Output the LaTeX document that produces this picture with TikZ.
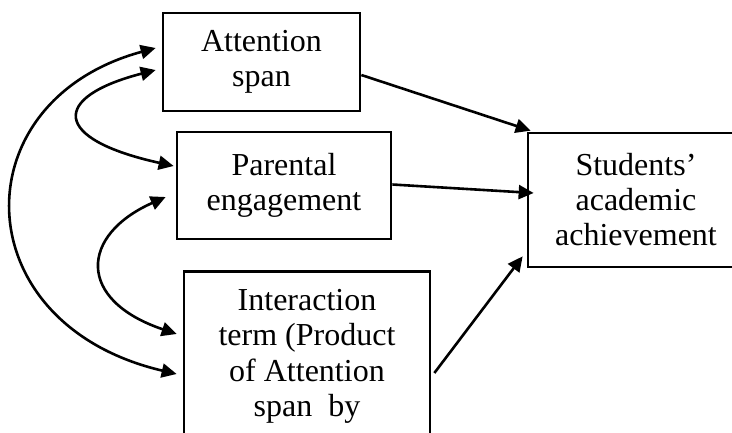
\documentclass[tikz,border=0pt]{standalone}
\usepackage{fontspec}
\setmainfont{Liberation Serif}
\usetikzlibrary{arrows.meta}
\begin{document}
\begin{tikzpicture}[x=1pt,y=-1pt,
  box/.style={draw, line width=2.7pt, rectangle, align=center, inner sep=0pt,
    font=\fontsize{32}{35}\selectfont},
  conn/.style={line width=2.6pt, -{Triangle[length=15pt,width=14pt]}},
  biconn/.style={line width=2.6pt, {Triangle[length=15pt,width=14pt]}-{Triangle[length=15pt,width=14pt]}}]
\useasboundingbox (0,0) rectangle (732,432);
\clip (0,0) rectangle (732,432);
\node[box, minimum width=197pt, minimum height=98pt] (A) at (261.5,62) {Attention\\span};
\node[box, minimum width=214pt, minimum height=107pt] (P) at (284,185.5) {Parental\\engagement};
\node[box, minimum width=246pt, minimum height=230pt, anchor=north] (I) at (307,270) {};
\node[anchor=north, align=center, inner sep=0pt, font=\fontsize{32}{35.5}\selectfont] (It) at ([yshift=-19pt]I.north) {Interaction\\term (Product\\of Attention\\span~ by};
\node[box, minimum width=216pt, minimum height=134pt] (S) at (636,200) {Students’\\academic\\achievement};
% straight paths
\draw[conn] ([yshift=-13pt]A.east) -- ([xshift=4pt,yshift=1pt]S.north west);
\draw[conn] ([yshift=1pt]P.east) -- ([xshift=7pt,yshift=7pt]S.west);
\draw[conn] ([xshift=3pt,yshift=-103pt]I.north east) -- ([xshift=-4pt,yshift=12pt]S.south west);
% covariances
\draw[biconn] ([xshift=-6pt,yshift=14pt]A.west) .. controls (-40,101) and (-37,324) .. ([xshift=-6pt,yshift=-104pt]I.north west);
\draw[biconn] ([xshift=-6pt,yshift=-8pt]A.west) .. controls (51,97) and (51,139) .. ([xshift=-2pt,yshift=19.5pt]P.west);
\draw[biconn] ([xshift=-10pt,yshift=-11.5pt]P.west) .. controls (80,235) and (76,300) .. ([xshift=-6pt,yshift=-64pt]I.north west);
\end{tikzpicture}
\end{document}
